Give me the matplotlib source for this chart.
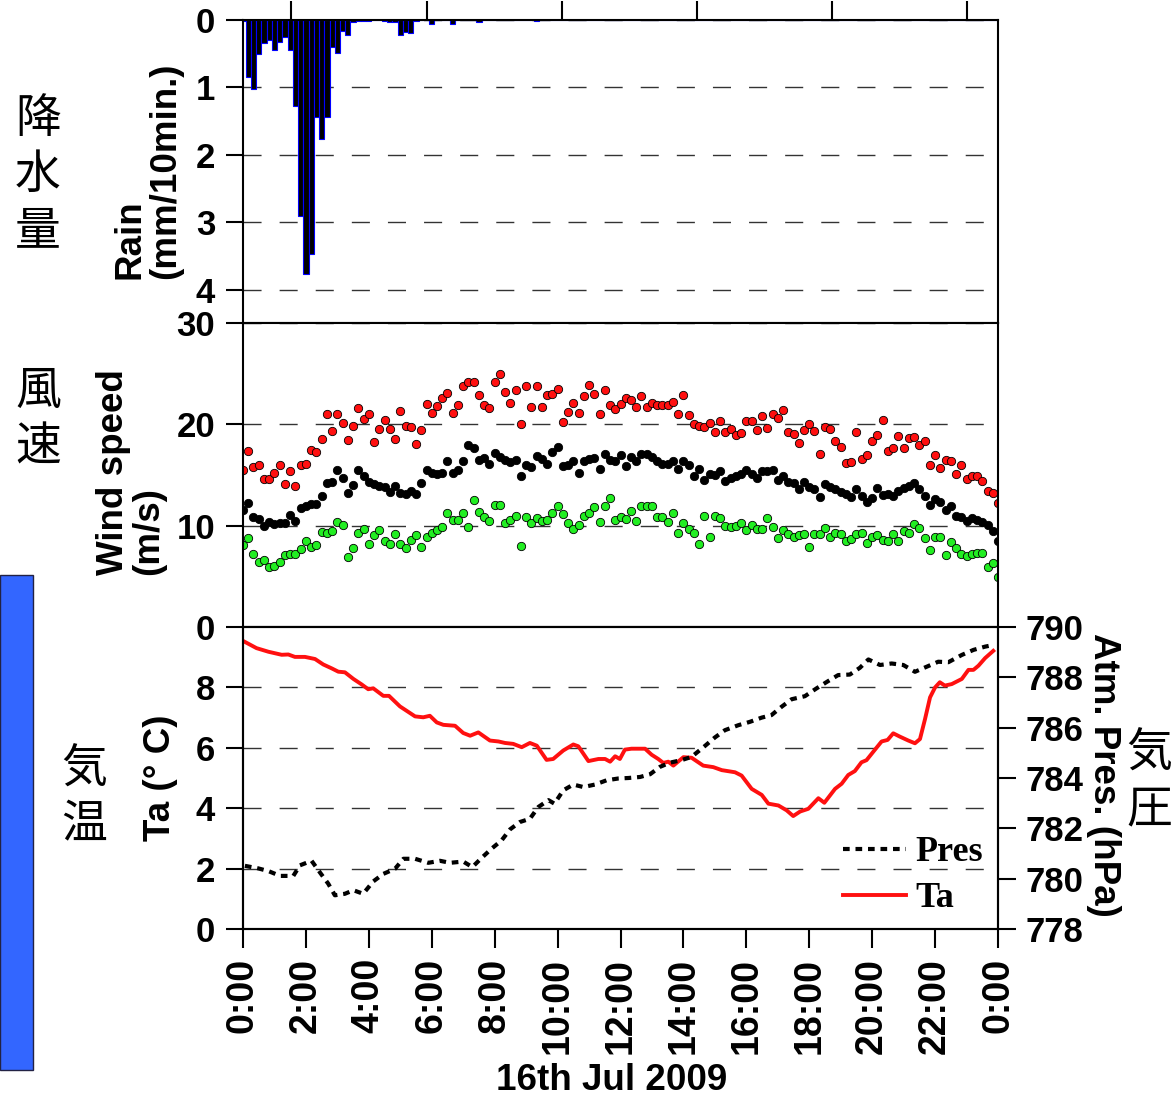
import numpy as np
import matplotlib
matplotlib.use('Agg')
import matplotlib.pyplot as plt
from matplotlib.patches import Rectangle

plt.rcParams['font.family'] = ['Liberation Sans', 'DejaVu Sans']
plt.rcParams['font.weight'] = 'bold'

# rain per 10 min, 0:00 .. 24:00 (mm/10min.)
rain_mm = [0.02, 0.85, 1.02, 0.51, 0.34, 0.30, 0.44, 0.33, 0.25, 0.45, 1.27, 2.90,
           3.76, 3.47, 1.44, 1.76, 1.44, 0.40, 0.49, 0.16, 0.22, 0.03, 0.02, 0.01,
           0.01, 0.0, 0.0, 0.01, 0.03, 0.03, 0.22, 0.18, 0.20, 0.01, 0.0, 0.0,
           0.06, 0.0, 0.0, 0.0, 0.06, 0.0, 0.0, 0.0, 0.0, 0.03, 0.0, 0.0,
           0.0, 0.0, 0.0, 0.0, 0.0, 0.0, 0.0, 0.0, 0.01, 0.0, 0.0, 0.0,
           0.0, 0.0, 0.0, 0.0, 0.0, 0.0, 0.0, 0.0, 0.0, 0.0, 0.0, 0.0,
           0.0, 0.0, 0.0, 0.0, 0.0, 0.0, 0.0, 0.0, 0.0, 0.0, 0.0, 0.0,
           0.0, 0.0, 0.0, 0.0, 0.0, 0.0, 0.0, 0.0, 0.0, 0.0, 0.0, 0.0,
           0.0, 0.0, 0.0, 0.0, 0.0, 0.0, 0.0, 0.0, 0.0, 0.0, 0.0, 0.0,
           0.0, 0.0, 0.0, 0.0, 0.0, 0.0, 0.0, 0.0, 0.0, 0.0, 0.0, 0.0,
           0.0, 0.0, 0.0, 0.0, 0.0, 0.0, 0.0, 0.0, 0.0, 0.0, 0.0, 0.0,
           0.0, 0.0, 0.0, 0.0, 0.0, 0.0, 0.0, 0.0, 0.0, 0.0, 0.0, 0.0,
           0.0]

# wind speed per 10 min (m/s): max (red), mean (black), min (green)
ws_max = [15.45, 17.4, 15.8, 16.0, 14.6, 14.65, 15.2, 16.0, 14.1, 15.4,
          13.9, 16.0, 16.1, 17.5, 17.3, 18.6, 21.05, 19.3, 21.0, 20.1,
          18.45, 19.8, 21.65, 20.5, 21.05, 18.25, 19.5, 20.4, 19.5, 18.6,
          21.35, 19.8, 19.75, 18.1, 19.4, 22.05, 21.15, 21.8, 22.6, 23.1,
          21.15, 21.9, 23.75, 24.2, 24.2, 22.85, 21.95, 21.6, 24.15, 24.95,
          23.2, 22.15, 23.4, 20.05, 23.8, 21.75, 23.75, 21.75, 22.9, 22.95,
          23.5, 20.2, 21.2, 22.15, 21.15, 22.75, 23.9, 22.95, 21.05, 23.4,
          21.95, 21.55,
          22.0, 22.55, 22.45, 21.75, 22.8, 21.75, 22.1, 21.9, 21.95, 21.95,
          22.25, 21.05, 22.85, 20.95, 20.05, 19.85, 19.75, 20.15, 19.2, 20.35,
          19.2, 19.55, 18.9, 19.15, 20.35, 20.35, 19.45, 20.85, 19.65, 21.05,
          20.65, 21.45, 19.25, 19.05, 18.2, 19.45, 20.05, 19.35, 17.05, 19.75,
          19.55, 18.4, 17.75, 16.15, 16.25, 19.25, 16.6, 16.95, 18.4, 18.9,
          20.4, 17.35, 17.65, 18.85, 17.65, 18.65, 18.75, 18.0, 18.35, 15.95,
          16.95, 15.65, 16.45, 16.35, 15.05, 15.95, 14.65, 14.95, 14.95, 14.4,
          13.4, 13.25, 12.25]
ws_mean = [11.5, 12.2, 10.9, 10.7, 10.0, 10.4, 10.15, 10.25, 10.3, 11.1,
           10.45, 11.7, 11.9, 12.1, 12.15, 12.9, 14.2, 14.3, 15.5, 14.7,
           13.2, 14.05, 15.5, 14.9, 14.3, 14.1, 13.95, 13.8, 13.3, 13.95,
           13.25, 13.15, 13.45, 13.15, 14.2, 15.5, 15.2, 15.05, 15.2, 16.35,
           15.2, 15.45, 16.35, 18.0, 17.7, 16.5, 16.7, 16.05, 17.15, 16.8,
           16.45, 16.25, 16.45, 14.95, 15.95, 15.75, 16.9, 16.6, 16.1, 17.25,
           17.75, 15.85, 15.95, 16.35, 15.2, 16.35, 16.6, 16.7, 15.55, 17.1,
           16.45, 16.35,
           16.93, 15.84, 16.80, 16.34, 17.06, 17.06, 16.73, 16.34, 16.11, 16.11,
           16.34, 15.64, 16.37, 15.97, 14.95, 15.61, 14.52, 15.08, 15.02, 15.35,
           14.36, 14.72, 14.95, 15.12, 15.45, 15.12, 14.69, 15.35, 15.35, 15.45,
           14.55, 14.92, 14.26, 14.22, 13.63, 14.29, 13.86, 13.63, 12.81, 14.09,
           13.86, 13.63, 13.37, 13.14, 12.84, 13.63, 12.97, 12.31, 12.74, 13.73,
           13.07, 13.14, 12.97, 13.40, 13.73, 13.96, 14.22, 13.63, 12.97, 12.05,
           12.67, 12.31, 11.55, 11.91, 10.99, 10.83, 10.50, 10.76, 10.56, 10.33,
           10.10, 9.44, 8.51]
ws_min = [8.1, 8.75, 7.25, 6.45, 6.6, 5.95, 6.05, 6.45, 7.1, 7.25,
          7.2, 7.7, 8.45, 7.9, 8.1, 9.35, 9.25, 9.45, 10.35, 10.05,
          6.95, 7.75, 9.3, 9.65, 8.2, 9.1, 9.55, 8.5, 8.15, 9.15,
          8.2, 7.75, 8.55, 9.05, 7.9, 8.85, 9.25, 9.55, 9.9, 11.25,
          10.55, 10.6, 11.25, 9.9, 12.5, 11.35, 10.85, 10.45, 12.0, 12.0,
          10.25, 10.55, 10.95, 8.0, 10.9, 10.3, 10.75, 10.45, 10.55, 11.25,
          11.9, 11.15, 10.25, 9.65, 10.05, 10.95, 11.25, 11.85, 10.4, 11.9,
          12.7, 10.55,
          10.9, 10.65, 11.4, 10.45, 11.9, 11.95, 11.9, 10.85, 10.85, 10.35,
          11.25, 9.25, 10.25, 9.7, 9.25, 8.2, 10.95, 8.9, 10.95, 10.75,
          9.95, 9.85, 9.95, 10.25, 9.6, 10.05, 9.65, 9.7, 10.75, 9.9,
          8.75, 9.55, 9.15, 8.85, 9.1, 9.2, 7.85, 9.2, 9.2, 9.75,
          8.9, 9.25, 9.2, 8.45, 8.7, 9.2, 9.25, 8.3, 8.85, 9.1,
          8.6, 8.45, 9.2, 8.45, 9.45, 9.25, 10.15, 9.75, 8.75, 7.6,
          8.9, 8.9, 7.1, 8.4, 7.75, 7.2, 7.05, 7.25, 7.3, 7.3,
          5.95, 6.35, 4.95]

# air temperature (hour of day, deg C)
ta_h = [0.0, 0.43, 0.81, 1.23, 1.44, 1.65, 1.97, 2.29, 2.55, 2.82, 3.03, 3.24,
        3.51, 3.77, 3.98, 4.14, 4.46, 4.64, 4.99, 5.47, 5.73, 5.94, 6.16, 6.37,
        6.74, 7.0, 7.22, 7.48, 7.85, 8.12, 8.33, 8.59, 8.86, 9.12, 9.34, 9.65,
        9.86, 10.18, 10.5, 10.66, 10.98, 11.3, 11.51, 11.67, 11.83, 11.98, 12.14, 12.35,
        12.78, 12.99, 13.2, 13.36, 13.52, 13.68, 14.0, 14.26, 14.63, 14.95, 15.22, 15.64,
        15.85, 16.17, 16.49, 16.7, 17.02, 17.28, 17.49, 17.71, 17.97, 18.29, 18.48, 18.82,
        19.03, 19.24, 19.45, 19.66, 19.82, 20.09, 20.3, 20.49, 20.67, 20.88, 21.15, 21.36,
        21.52, 21.68, 21.84, 22.0, 22.15, 22.31, 22.53, 22.85, 23.06, 23.22, 23.38, 23.59,
        23.85]
ta_c = [9.54, 9.30, 9.18, 9.08, 9.09, 9.01, 9.01, 8.94, 8.76, 8.63, 8.52, 8.50,
        8.28, 8.10, 7.94, 7.97, 7.72, 7.72, 7.37, 7.04, 7.01, 7.06, 6.84, 6.76,
        6.73, 6.49, 6.40, 6.51, 6.24, 6.21, 6.16, 6.13, 6.02, 6.16, 6.07, 5.60,
        5.63, 5.91, 6.11, 6.05, 5.56, 5.63, 5.63, 5.54, 5.72, 5.63, 5.94, 5.97,
        5.97, 5.77, 5.63, 5.50, 5.54, 5.41, 5.69, 5.67, 5.41, 5.36, 5.26, 5.19,
        5.08, 4.64, 4.44, 4.15, 4.09, 3.93, 3.74, 3.89, 3.98, 4.33, 4.18, 4.64,
        4.81, 5.10, 5.23, 5.52, 5.59, 5.94, 6.21, 6.26, 6.48, 6.37, 6.24, 6.15,
        6.29, 6.95, 7.67, 8.00, 8.17, 8.06, 8.11, 8.28, 8.58, 8.58, 8.72, 8.97,
        9.21]

# atmospheric pressure (hour of day, hPa)
pres_h = [0.06, 0.48, 0.81, 1.18, 1.6, 1.81, 2.18, 2.45, 2.71, 2.92, 3.24, 3.51,
          3.82, 4.14, 4.46, 4.83, 5.1, 5.47, 5.89, 6.26, 6.58, 7.0, 7.29, 7.59,
          7.9, 8.22, 8.49, 8.8, 9.12, 9.39, 9.71, 9.9, 10.18, 10.5, 10.82, 11.19,
          11.56, 11.93, 12.25, 12.62, 12.94, 13.25, 13.57, 13.94, 14.26, 14.69, 15.0, 15.32,
          15.75, 16.11, 16.49, 16.8, 17.12, 17.44, 17.86, 18.23, 18.6, 18.92, 19.29, 19.61,
          19.88, 20.25, 20.62, 20.99, 21.36, 21.73, 22.1, 22.42, 22.85, 23.22, 23.59, 23.75]
pres_hpa = [780.51, 780.41, 780.30, 780.11, 780.11, 780.53, 780.71, 780.24, 779.80, 779.34, 779.40, 779.54,
            779.40, 779.89, 780.19, 780.39, 780.79, 780.79, 780.63, 780.71, 780.63, 780.68, 780.46, 780.83,
            781.19, 781.52, 781.96, 782.25, 782.38, 782.85, 783.12, 782.98, 783.51, 783.74, 783.64, 783.74,
            783.91, 783.98, 784.00, 784.04, 784.15, 784.44, 784.61, 784.71, 784.84, 785.28, 785.61, 785.90,
            786.10, 786.23, 786.40, 786.50, 786.83, 787.13, 787.25, 787.56, 787.85, 788.09, 788.11, 788.38,
            788.71, 788.49, 788.55, 788.49, 788.22, 788.42, 788.62, 788.60, 788.89, 789.09, 789.22, 789.26]

hour_ticks = list(range(0, 25, 2))
hour_labels = [f"{h % 24}:00" for h in hour_ticks]
top_ticks = [1.53, 5.85, 10.13, 14.43, 18.73, 23.03]

t10 = np.arange(len(ws_max)) / 6.0
t_rain = np.arange(len(rain_mm)) / 6.0

W, H = 1174, 1099
fig = plt.figure(figsize=(W / 100, H / 100), dpi=100)

left, width = 243 / W, 755 / W
ax1 = fig.add_axes([left, 1 - 323 / H, width, 303 / H])
ax2 = fig.add_axes([left, 1 - 627 / H, width, 304 / H])
ax3 = fig.add_axes([left, 1 - 929 / H, width, 302 / H])
ax4 = ax3.twinx()

grid_kw = dict(color='0.2', linewidth=1.0, linestyle=(0, (13, 13)))
ytick_kw = dict(direction='out', length=12, width=1.5, labelsize=25, pad=8)

for ax in (ax1, ax2, ax3, ax4):
    for sp in ax.spines.values():
        sp.set_linewidth(1.5)
    ax.set_xlim(0, 24)

# rain
ax1.bar(t_rain, rain_mm, width=1 / 6, color='black', edgecolor='blue', linewidth=0.8)
ax1.set_ylim(4.49, 0)
ax1.set_yticks([0, 1, 2, 3, 4])
ax1.yaxis.grid(True, **grid_kw)
ax1.set_axisbelow(True)
ax1.tick_params(axis='y', **ytick_kw)
ax1.xaxis.tick_top()
ax1.set_xticks(top_ticks)
ax1.tick_params(axis='x', direction='out', length=14, width=1.5, labeltop=False)

# wind speed
mk = dict(linestyle='none', marker='o', markersize=6, markeredgecolor='black', markeredgewidth=0.6)
ax2.plot(t10, ws_min, markerfacecolor='#22ee22', **mk)
ax2.plot(t10, ws_mean, markerfacecolor='black', **mk)
ax2.plot(t10, ws_max, markerfacecolor='#ff1010', **mk)
ax2.set_ylim(0, 30)
ax2.set_yticks([0, 10, 20, 30])
ax2.yaxis.grid(True, **grid_kw)
ax2.set_axisbelow(True)
ax2.tick_params(axis='y', **ytick_kw)
ax2.tick_params(axis='x', bottom=False, labelbottom=False)

# temperature + pressure
ta_line, = ax3.plot(ta_h, ta_c, color='#ff1010', linewidth=2.8)
pres_line, = ax4.plot(pres_h, pres_hpa, color='black', linewidth=3, linestyle=(0, (1.6, 1.4)))
ax3.set_ylim(0, 10)
ax3.set_yticks([0, 2, 4, 6, 8])
ax3.yaxis.grid(True, **grid_kw)
ax3.tick_params(axis='y', **ytick_kw)
ax3.set_xticks(hour_ticks)
ax3.set_xticklabels(hour_labels, rotation=90, fontsize=27)
ax3.tick_params(axis='x', direction='out', length=14, width=1.5, pad=7)
ax4.set_ylim(778, 790)
ax4.set_yticks(range(778, 791, 2))
ax4.tick_params(axis='y', direction='out', length=13, width=1.5, labelsize=25, pad=7)

leg = ax3.legend([pres_line, ta_line], ['Pres', 'Ta'], frameon=False,
                 loc='upper left', bbox_to_anchor=(843 / W, 1 - 836 / H),
                 bbox_transform=fig.transFigure, borderpad=0, borderaxespad=0,
                 handlelength=1.75, handletextpad=0.25, labelspacing=0.35,
                 prop={'family': 'Liberation Serif', 'weight': 'bold', 'size': 26})

# axis labels
lab = dict(fontsize=26.5, fontweight='bold', ha='center', va='center')
fig.text(148 / W, 1 - 171 / H, 'Rain\n(mm/10min.)', rotation=90, multialignment='left',
         linespacing=1.0, **lab)
fig.text(131 / W, 1 - 472 / H, 'Wind speed\n(m/s)', rotation=90, multialignment='left',
         linespacing=1.0, **lab)
fig.text(160 / W, 1 - 778 / H, 'Ta (° C)', rotation=90, **lab)
fig.text(1103 / W, 1 - 775 / H, 'Atm. Pres. (hPa)', rotation=-90, **lab)
fig.text(612 / W, 1 - 1081 / H, '16th Jul 2009', **lab)

# japanese labels, one character per row
jp = dict(fontsize=33, family=['Noto Sans CJK JP', 'DejaVu Sans'], fontweight='normal',
          ha='center', va='center')
for ch, x, y in [('降', 38, 119), ('水', 38, 175), ('量', 38, 231),
                 ('風', 38, 391), ('速', 38, 447),
                 ('気', 84, 769), ('温', 84, 825),
                 ('気', 1149, 753), ('圧', 1149, 809)]:
    fig.text(x / W, 1 - y / H, ch, **jp)

fig.add_artist(Rectangle((0, 1 - 1070 / H), 33 / W, 495 / H, transform=fig.transFigure,
                         facecolor='#3366ff', edgecolor='#222244', linewidth=1))

fig.savefig('out.png', dpi=100)
